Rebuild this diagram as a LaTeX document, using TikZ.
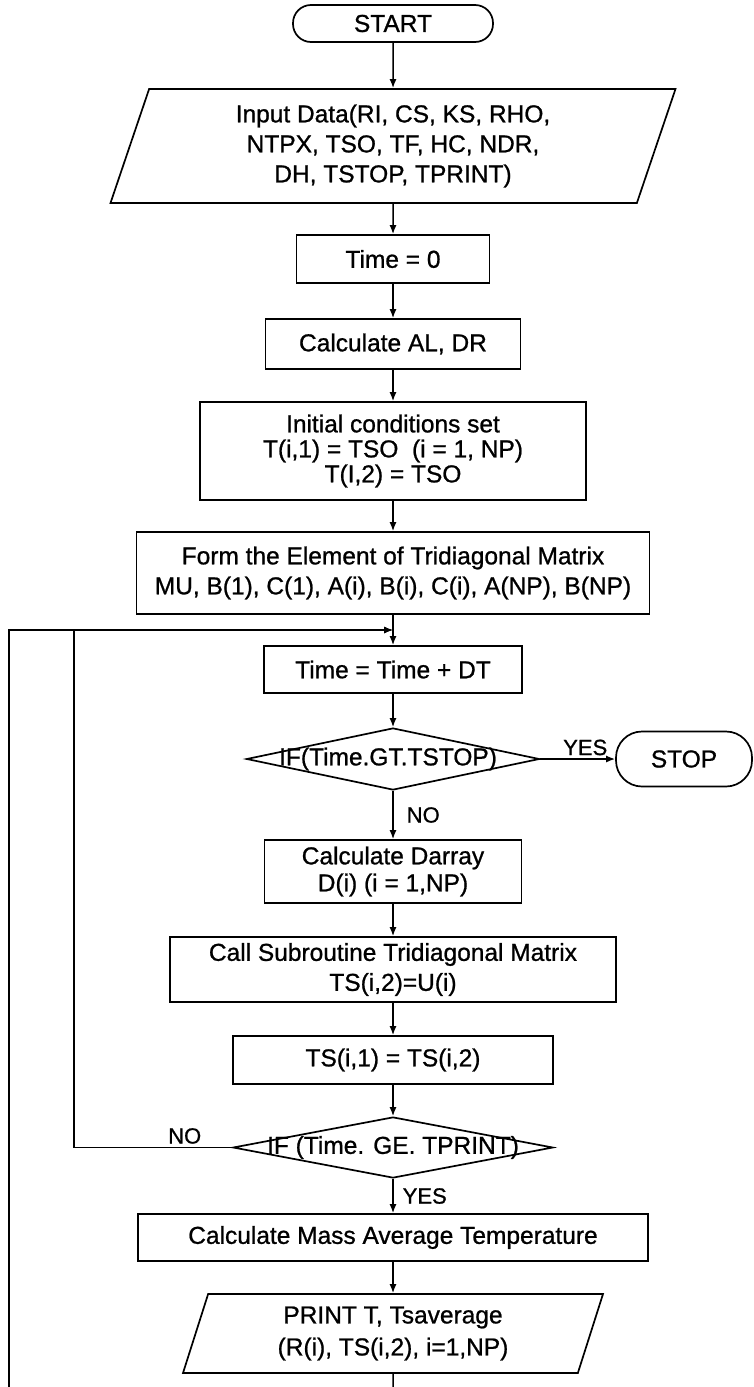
\documentclass[tikz,border=0pt]{standalone}
\usepackage{fontspec}
\setmainfont{Liberation Sans}[FakeBold=0.9]
\usetikzlibrary{shapes.geometric,arrows.meta}

\tikzset{
  box/.style={draw, line width=1.7pt, inner sep=0pt, align=center, font=\fontsize{24.5}{30}\selectfont},
  proc/.style={box, rectangle},
  term/.style={box, rectangle},
  io/.style={box, trapezium, trapezium left angle=65, trapezium right angle=115, trapezium stretches body},
  cond/.style={box, diamond},
  lbl/.style={font=\fontsize{22}{24}\selectfont, inner sep=3pt},
  arr/.style={line width=1.5pt, -{Latex[length=9pt,width=7pt]}},
  wire/.style={line width=1.5pt}
}

\begin{document}
\begin{tikzpicture}[x=1pt,y=-1pt]
	\useasboundingbox (0,0) rectangle (754,1387);
	\node[term, rounded corners=18pt, minimum width=200pt, minimum height=37pt] (start) at (393,23.5) {START};
	\node[io, minimum width=565pt, minimum height=114pt] (input) at (393,146) {Input Data(RI, CS, KS, RHO,\\ NTPX, TSO, TF, HC, NDR,\\ DH, TSTOP, TPRINT)};
	\node[proc, minimum width=193pt, minimum height=48pt] (t0) at (393,259) {Time = 0};
	\node[proc, minimum width=255pt, minimum height=50pt] (calc) at (393,344) {Calculate AL, DR};
	\node[proc, minimum width=386pt, minimum height=98pt, font=\fontsize{24.5}{25}\selectfont] (init) at (393,451) {Initial conditions set\\ T(i,1) = TSO\ \ (i = 1, NP)\\ T(I,2) = TSO};
	\node[proc, minimum width=513pt, minimum height=82pt] (form) at (393,573) {Form the Element of Tridiagonal Matrix\\ MU, B(1), C(1), A(i), B(i), C(i), A(NP), B(NP)};
	\coordinate (join) at (393,630);
	\node[proc, minimum width=258pt, minimum height=47pt] (tdt) at (393,669.5) {Time = Time + DT};
	\node[cond, minimum width=293pt, minimum height=62pt, label={[box, draw=none, xshift=-5pt]center:IF(Time.GT.TSTOP)}] (d1) at (393,759) {};
	\node[term, rounded corners=26pt, minimum width=136pt, minimum height=55pt] (stop) at (684,759) {STOP};
	\node[proc, minimum width=257pt, minimum height=63pt, font=\fontsize{24.5}{27}\selectfont] (darr) at (393,871.5) {Calculate Darray\\ D(i) (i = 1,NP)};
	\node[proc, minimum width=446pt, minimum height=65pt] (call) at (393,969.5) {Call Subroutine Tridiagonal Matrix\\ TS(i,2)=U(i)};
	\node[proc, minimum width=320pt, minimum height=48pt] (ts1) at (393,1060) {TS(i,1) = TS(i,2)};
	\node[cond, minimum width=320pt, minimum height=61pt, label={[box, draw=none]center:IF (Time. GE. TPRINT)}] (d2) at (393,1147.5) {};
	\node[proc, minimum width=510pt, minimum height=47pt] (mass) at (393,1237.5) {Calculate Mass Average Temperature};
	\node[io, minimum width=420pt, minimum height=79pt, font=\fontsize{24.5}{32}\selectfont] (out) at (393,1333.5) {PRINT T, Tsaverage\\ (R(i), TS(i,2), i=1,NP)};
	\coordinate (inner) at (74,630);
	\coordinate (outer) at (9,630);
	\coordinate (lowL) at (9,1387);
	\coordinate (lowM) at (393,1387);

	\draw[arr] (start) -- (input);
	\draw[arr] (input) -- (t0);
	\draw[arr] (t0) -- (calc);
	\draw[arr] (calc) -- (init);
	\draw[arr] (init) -- (form);
	\draw[arr] (form) -- (tdt);
	\draw[arr] (tdt) -- (d1);
	\draw[arr] (d1) -- node[lbl, above, pos=0.6] {YES} (stop);
	\draw[arr] (d1) -- node[lbl, right, xshift=10pt] {NO} (darr);
	\draw[arr] (darr) -- (call);
	\draw[arr] (call) -- (ts1);
	\draw[arr] (ts1) -- (d2);
	\draw[arr] (d2) -- node[lbl, right, xshift=6pt] {YES} (mass);
	\draw[arr] (mass) -- (out);
	\draw[wire] (out) -- (lowM);
	\draw[arr] (d2.west) -| node[lbl, above, pos=0.15] {NO} (inner) -- (join);
	\draw[arr] (lowL) -- (outer) -- (join);
\end{tikzpicture}
\end{document}
